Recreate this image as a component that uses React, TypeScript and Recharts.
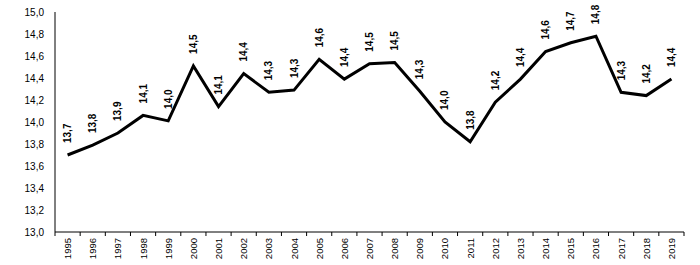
import React from "react";
import { LineChart, Line, XAxis, YAxis, LabelList } from "recharts";

const years = ["1995","1996","1997","1998","1999","2000","2001","2002","2003","2004","2005","2006","2007","2008","2009","2010","2011","2012","2013","2014","2015","2016","2017","2018","2019"];
const values = [13.70,13.79,13.90,14.06,14.01,14.51,14.14,14.44,14.27,14.29,14.57,14.39,14.53,14.54,14.28,14.00,13.82,14.18,14.39,14.64,14.72,14.78,14.27,14.24,14.39];
const yTicks = [13.0,13.2,13.4,13.6,13.8,14.0,14.2,14.4,14.6,14.8,15.0];

const data = years.map((y, i) => ({ year: y, value: values[i] }));

const W = 700, H = 265;
const M = { top: 12, right: 16, left: 0, bottom: 0 };
const Y_W = 55;
const X_H = 33;
const plotW = W - M.left - M.right - Y_W;
const band = plotW / years.length;
const FONT = "'Liberation Sans', Arial, sans-serif";

const fmt = (v: number) => v.toFixed(1).replace(".", ",");

const XTick = (props: any) => {
  const { x, y, payload, index } = props;
  const last = index === years.length - 1;
  return (
    <g>
      <line x1={x - band / 2} x2={x - band / 2} y1={y} y2={y + 4} stroke="#000" strokeWidth={1} />
      {last && <line x1={x + band / 2} x2={x + band / 2} y1={y} y2={y + 4} stroke="#000" strokeWidth={1} />}
      <text
        transform={`translate(${x},${y + 6}) rotate(-90)`}
        textAnchor="end"
        dominantBaseline="central"
        fontSize={9.5}
        fontFamily={FONT}
        fill="#000"
      >
        {payload.value}
      </text>
    </g>
  );
};

const ValueLabel = (props: any) => {
  const { x, y, value } = props;
  return (
    <text
      transform={`translate(${x},${y - 12}) rotate(-90)`}
      textAnchor="start"
      dominantBaseline="central"
      fontSize={10}
      fontWeight="bold"
      fontFamily={FONT}
      fill="#000"
    >
      {fmt(value)}
    </text>
  );
};

export default function App() {
  return (
    <div style={{ position: "absolute", left: 0, top: 0, width: W, height: H, background: "#fff" }}>
      <LineChart width={W} height={H} data={data} margin={M}>
        <XAxis
          dataKey="year"
          scale="band"
          height={X_H}
          interval={0}
          tickLine={false}
          tickSize={0}
          tickMargin={0}
          axisLine={{ stroke: "#000", strokeWidth: 1 }}
          tick={<XTick />}
        />
        <YAxis
          width={Y_W}
          domain={[13, 15]}
          ticks={yTicks}
          interval={0}
          tickLine={false}
          tickSize={0}
          tickMargin={11}
          axisLine={{ stroke: "#000", strokeWidth: 1 }}
          tickFormatter={fmt}
          tick={{ fontSize: 10, fontFamily: FONT, fill: "#000" }}
        />
        <Line
          type="linear"
          dataKey="value"
          stroke="#000"
          strokeWidth={3}
          dot={false}
          isAnimationActive={false}
        >
          <LabelList dataKey="value" content={<ValueLabel />} />
        </Line>
      </LineChart>
    </div>
  );
}
